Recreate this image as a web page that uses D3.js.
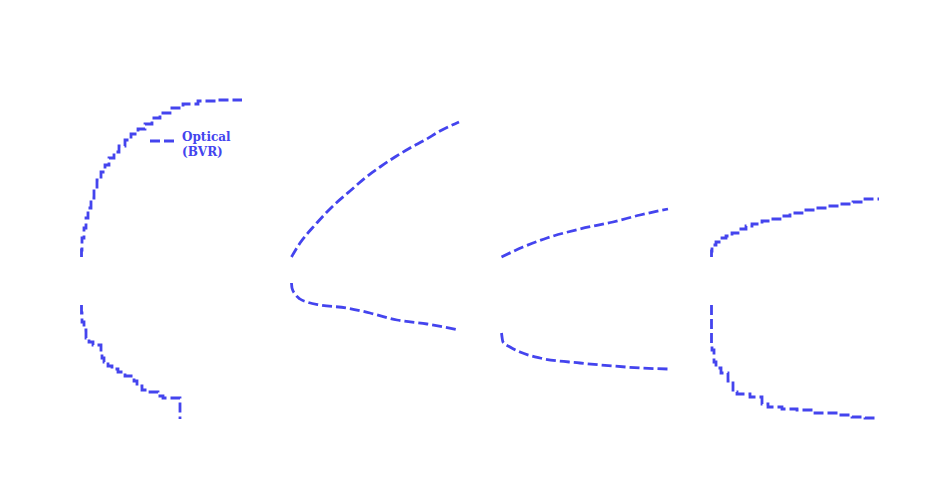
<!DOCTYPE html>
<html>
<head>
<meta charset="utf-8">
<style>
  body { margin: 0; background: #fff; }
  svg { display: block; }
</style>
</head>
<body>
<svg width="950" height="480" id="svgMain"></svg>
<script src="https://cdn.jsdelivr.net/npm/d3@7"></script>
<script>
// ---------------------------------------------------------
//   DATA: four panels, each with an upper and a lower branch
//   [x, y] pairs
// ---------------------------------------------------------
var panel1Upper = [[0,81.5],[0.25,85],[1.25,91],[2.25,96],[3.25,101],[4.75,106],[6.25,111],
  [7.75,115.5],[9.75,120],[11.75,124],[13.75,127.5],[16.25,131],[18.75,134],[21.75,137],
  [24.75,140],[28.25,143],[31.75,145.5],[35.25,148],[39.25,151],[44.25,153.5],[50.75,156],
  [58.25,158],[68.25,159.5],[80.25,160]];
var panel1Lower = [[0,57.5],[0.25,53.5],[1.25,49],[2.25,45],[3.75,41],[5.75,39],[9.75,37.5],
  [10.25,34],[11.25,31],[13.25,29],[15.25,27],[18.25,25.5],[21.75,24],[26.25,22],[27.75,19.5],
  [30.25,17],[34.25,15],[38.25,14],[40.75,12],[44.25,11],[49.25,11],[49.25,0.5]];

var panel2Upper = [[0,81.5],[1.75,84.5],[4.25,88.5],[7.75,93],[11.75,97.5],[16.75,103],
  [21.75,108],[29.25,114.5],[36.75,121],[44.25,126.5],[51.75,131.5],[59.25,136],[66.75,140],
  [74.25,144.5],[83.75,149]];
var panel2Lower = [[0,68.5],[0.25,66],[1.75,63],[4.25,60.5],[7.75,59],[14.25,57.5],[27.75,56],
  [39.25,53.5],[52.75,50],[67.75,48],[83.75,45]];

var panel3Upper = [[0,81.5],[10.75,86.5],[22.75,91],[39.25,95.5],[55.75,99],[69.25,102.5],[83.25,105.5]];
var panel3Lower = [[0,43.5],[0.75,39],[4.25,36.5],[9.25,34],[19.25,31],[39.25,28.5],[55.75,27],
  [69.25,26],[83.25,25.5]];

var panel4Upper = [[0,81.5],[0.25,84.5],[2.25,87.5],[5.25,89],[7.25,91],[10.25,92],[13.25,93.5],
  [17.25,95.5],[20.25,97],[25.25,98],[29.25,99.5],[34.25,100.5],[39.25,102],[45.25,103.5],
  [51.75,105],[58.25,106],[64.25,107],[70.75,108],[76.75,109],[83.75,110.5]];
var panel4Lower = [[0,57.5],[0.25,38.5],[1.25,35],[2.25,29],[4.75,26],[8.25,23.5],[10.75,19.5],
  [12.75,14],[19.25,13],[25.25,11.5],[28.25,8],[35.25,6.5],[42.75,5.5],[51.75,5],[63.25,3.5],
  [70.25,2.5],[76.75,1.5],[82.75,1]];

var legendLabel = ["Optical", "(BVR)"];

// which panels are stepped (binned) and which are smooth
var panels = [
  {upper: panel1Upper, lower: panel1Lower, stepped: true},
  {upper: panel2Upper, lower: panel2Lower, stepped: false},
  {upper: panel3Upper, lower: panel3Lower, stepped: false},
  {upper: panel4Upper, lower: panel4Lower, stepped: true}
];

//-----------------------------------------------------
//              LAYOUT & SCALES
//-----------------------------------------------------
var svg = d3.select("svg"),
    left0 = 81.5,
    panelStep = 210,
    panelWidth = 168,
    color = "#4444ee",
    lineWidth = 2.8,
    dashes = "10,4";

var y = d3.scaleLinear().domain([0, 160]).range([420, 100]);

panels.forEach(function(p, i) {
  var x = d3.scaleLinear()
      .domain([0, 84])
      .range([left0 + i * panelStep, left0 + i * panelStep + panelWidth]);

  var line = d3.line()
      .curve(p.stepped ? d3.curveStepBefore : d3.curveMonotoneX)
      .x(function(d) { return x(d[0]); })
      .y(function(d) { return y(d[1]); });

  var g = svg.append("g").attr("class", "panel");

  g.selectAll("path")
      .data([p.upper, p.lower])
      .enter().append("path")
      .attr("d", line)
      .attr("fill", "none")
      .attr("stroke", color)
      .attr("stroke-width", lineWidth)
      .attr("stroke-dasharray", dashes);

  // legend sits inside the first panel
  if (i === 0) {
    var lg = svg.append("g").attr("class", "legend");
    lg.append("line")
        .attr("x1", x(34.25)).attr("x2", x(47.25))
        .attr("y1", y(139.5)).attr("y2", y(139.5))
        .attr("stroke", color)
        .attr("stroke-width", lineWidth)
        .attr("stroke-dasharray", dashes);
    lg.selectAll("text")
        .data(legendLabel)
        .enter().append("text")
        .attr("x", x(50.25))
        .attr("y", function(d, k) { return y(139.5) + k * 14.5; })
        .attr("fill", color)
        .style("font", "bold 12px 'DejaVu Serif'")
        .text(function(d) { return d; });
  }
});
</script>
</body>
</html>
